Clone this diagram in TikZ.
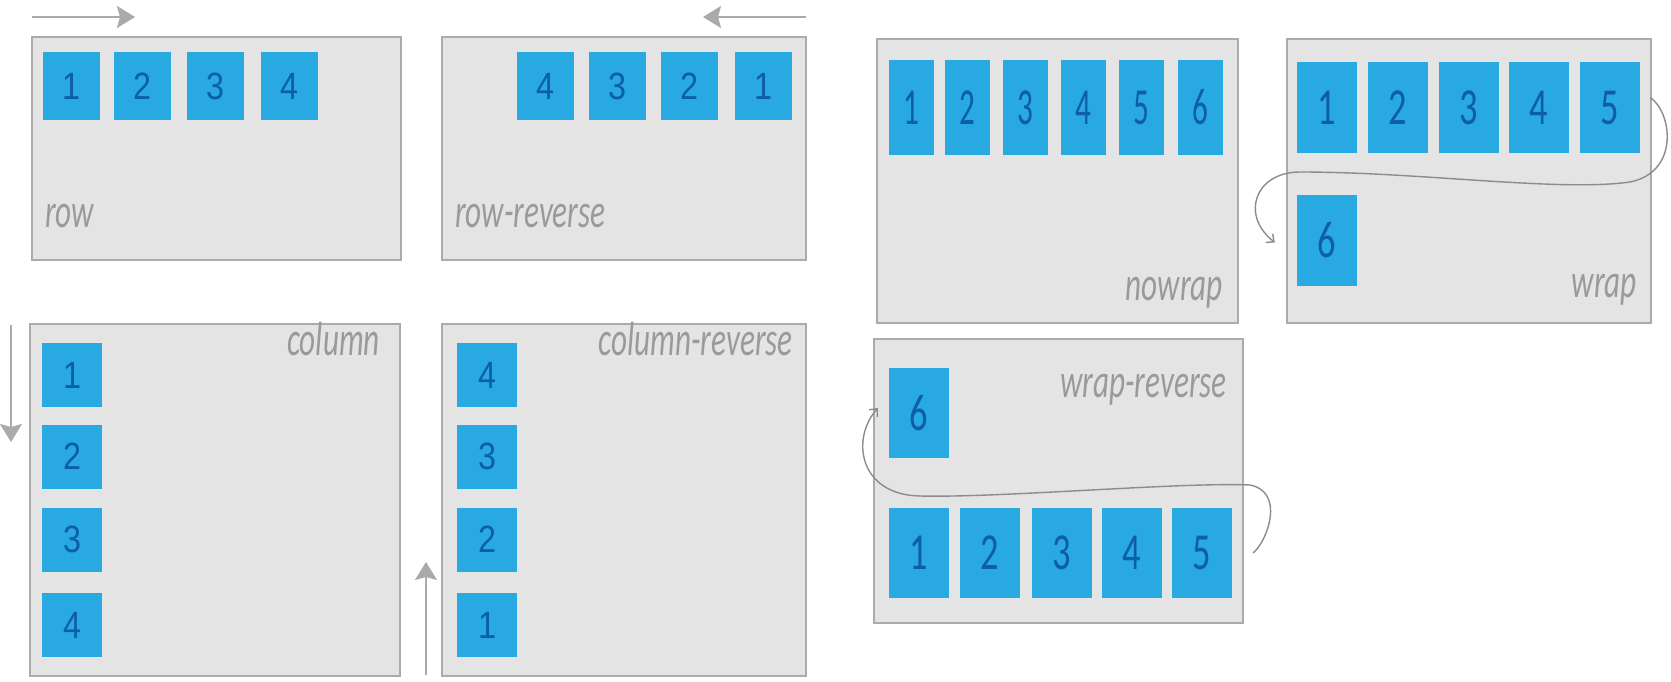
\documentclass[tikz,border=0pt]{standalone}
\usepackage{fontspec}
\usetikzlibrary{arrows.meta}
\newfontfamily\numfont{Liberation Sans}
\newfontfamily\wnumfont{Carlito}
\newfontfamily\labfont{Carlito}
\definecolor{contfill}{HTML}{E4E4E4}
\definecolor{contline}{HTML}{ABABAB}
\definecolor{itemfill}{HTML}{29A9E1}
\definecolor{itemtext}{HTML}{0D5EA6}
\definecolor{labgray}{HTML}{9A9A9A}
\definecolor{arrgray}{HTML}{AAAAAA}
\definecolor{curvegray}{HTML}{8C8C8C}
\newcommand\numA[1]{\scalebox{0.85}[1]{\numfont\fontsize{38}{40}\selectfont #1}}
\newcommand\numB[1]{\scalebox{0.7}[1]{\wnumfont\fontsize{52}{54}\selectfont #1}}
\newcommand\numC[1]{\scalebox{0.6}[1]{\wnumfont\fontsize{52}{54}\selectfont #1}}
\newcommand\lab[1]{\scalebox{0.65}[1]{\labfont\itshape\fontsize{48}{50}\selectfont #1}}
\begin{document}
\begin{tikzpicture}[x=1pt,y=-1pt,
  cont/.style={draw=contline,line width=2pt,fill=contfill,rectangle,inner sep=0pt},
  itemA/.style={fill=itemfill,text=itemtext,inner sep=0pt,minimum width=57pt,minimum height=68pt},
  itemC/.style={fill=itemfill,text=itemtext,inner sep=0pt,minimum width=60pt,minimum height=64pt},
  itemN/.style={fill=itemfill,text=itemtext,inner sep=0pt,minimum width=45pt,minimum height=95pt},
  itemW/.style={fill=itemfill,text=itemtext,inner sep=0pt,minimum width=60pt,minimum height=91pt},
  labl/.style={text=labgray,inner sep=0pt},
  dirarrow/.style={draw=arrgray,line width=2pt,-{Stealth[length=18pt,width=22pt,inset=3pt]}},
  wraparrow/.style={draw=curvegray,line width=1.4pt,-{Straight Barb[length=6pt,width=11pt]}}]
\useasboundingbox (0,0) rectangle (1671,682);
\fill[white] (0,0) rectangle (1671,682);

% containers
\node[cont,minimum width=369pt,minimum height=223pt] (crow) at (216.5,148.5) {};
\node[cont,minimum width=364pt,minimum height=223pt] (crowrev) at (624,148.5) {};
\node[cont,minimum width=370pt,minimum height=352pt] (ccol) at (215,500) {};
\node[cont,minimum width=364pt,minimum height=352pt] (ccolrev) at (624,500) {};
\node[cont,minimum width=361pt,minimum height=284pt] (cnowrap) at (1057.5,181) {};
\node[cont,minimum width=364pt,minimum height=284pt] (cwrap) at (1469,181) {};
\node[cont,minimum width=369pt,minimum height=284pt] (cwraprev) at (1058.5,481) {};

% direction arrows
\coordinate (ra1) at (32,17); \coordinate (ra2) at (135,17);
\coordinate (rr1) at (806,17); \coordinate (rr2) at (703,17);
\coordinate (ca1) at (11,325); \coordinate (ca2) at (11,442);
\coordinate (cr1) at (426,675); \coordinate (cr2) at (426,562);
\draw[dirarrow] (ra1) -- (ra2);
\draw[dirarrow] (rr1) -- (rr2);
\draw[dirarrow] (ca1) -- (ca2);
\draw[dirarrow] (cr1) -- (cr2);

% row
\node[itemA] (r1) at (71.5,86) {\numA{1}};
\node[itemA] (r2) at (142.5,86) {\numA{2}};
\node[itemA] (r3) at (215.5,86) {\numA{3}};
\node[itemA] (r4) at (289.5,86) {\numA{4}};
\node[labl,anchor=base west] (lrow) at (45,227) {\lab{row}};

% row-reverse
\node[itemA] (rr4) at (545.5,86) {\numA{4}};
\node[itemA] (rr3) at (617,86) {\numA{3}};
\node[itemA] (rr2) at (689.5,86) {\numA{2}};
\node[itemA] (rr1) at (763.5,86) {\numA{1}};
\node[labl,anchor=base west] (lrowrev) at (455,227) {\lab{row-reverse}};

% column
\node[itemC] (c1) at (72,375) {\numA{1}};
\node[itemC] (c2) at (72,456.5) {\numA{2}};
\node[itemC] (c3) at (72,539.5) {\numA{3}};
\node[itemC] (c4) at (72,625) {\numA{4}};
\node[labl,anchor=base east] (lcol) at (380,355) {\lab{column}};

% column-reverse
\node[itemC] (cr4) at (487,375) {\numA{4}};
\node[itemC] (cr3) at (487,456.5) {\numA{3}};
\node[itemC] (cr2) at (487,539.5) {\numA{2}};
\node[itemC] (cr1) at (487,625) {\numA{1}};
\node[labl,anchor=base east] (lcolrev) at (793,355) {\lab{column-reverse}};

% nowrap
\node[itemN] (n1) at (911,107.5) {\numC{1}};
\node[itemN] (n2) at (967.5,107.5) {\numC{2}};
\node[itemN] (n3) at (1025,107.5) {\numC{3}};
\node[itemN] (n4) at (1083,107.5) {\numC{4}};
\node[itemN] (n5) at (1141.5,107.5) {\numC{5}};
\node[itemN] (n6) at (1200.5,107.5) {\numC{6}};
\node[labl,anchor=base east] (lnowrap) at (1223,300) {\lab{nowrap}};

% wrap
\node[itemW] (w1) at (1327,107.5) {\numB{1}};
\node[itemW] (w2) at (1398,107.5) {\numB{2}};
\node[itemW] (w3) at (1469,107.5) {\numB{3}};
\node[itemW] (w4) at (1539,107.5) {\numB{4}};
\node[itemW] (w5) at (1610,107.5) {\numB{5}};
\node[itemW] (w6) at (1327,240.5) {\numB{6}};
\node[labl,anchor=base east] (lwrap) at (1637,297) {\lab{wrap}};
\draw[wraparrow] ([shift={(10,-10)}]w5.east)
  .. controls (1672,112) and (1680,172) .. (1630,182)
  .. controls (1560,192) and (1420,172) .. (1300,172)
  .. controls (1255,172) and (1240,215) .. ([shift={(-22,2)}]w6.west);

% wrap-reverse
\node[itemW,minimum height=90pt] (v6) at (919,413) {\numB{6}};
\node[itemW,minimum height=90pt] (v1) at (919,553) {\numB{1}};
\node[itemW,minimum height=90pt] (v2) at (990,553) {\numB{2}};
\node[itemW,minimum height=90pt] (v3) at (1062,553) {\numB{3}};
\node[itemW,minimum height=90pt] (v4) at (1132,553) {\numB{4}};
\node[itemW,minimum height=90pt] (v5) at (1202,553) {\numB{5}};
\node[labl,anchor=base east] (lwraprev) at (1227,397) {\lab{wrap-reverse}};
\draw[wraparrow] ([shift={(21,0)}]v5.east)
  .. controls (1268,540) and (1285,492) .. (1250,485)
  .. controls (1180,482) and (1000,498) .. (920,496)
  .. controls (860,495) and (850,440) .. ([shift={(-11,-5)}]v6.west);
\end{tikzpicture}
\end{document}
